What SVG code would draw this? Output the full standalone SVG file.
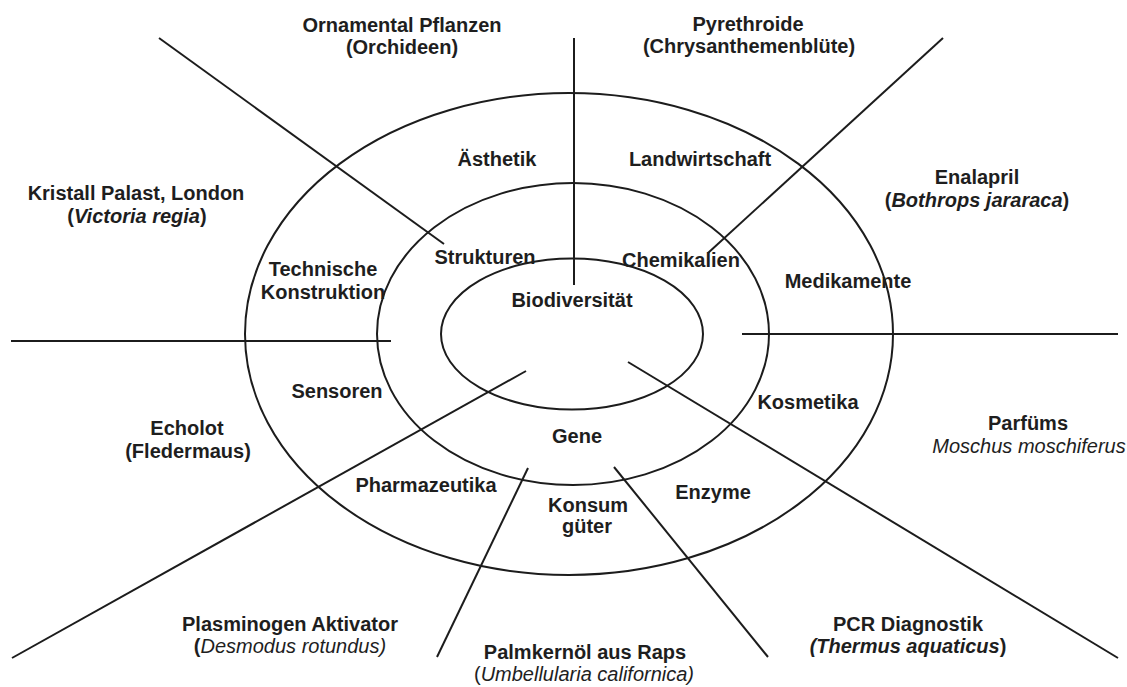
<svg xmlns="http://www.w3.org/2000/svg" width="1127" height="687" viewBox="0 0 1127 687">
<style>
.ring{fill:none;stroke:#1c1c1c;stroke-width:2}
.ln{stroke:#1c1c1c;stroke-width:2;fill:none}
text{font-family:"Liberation Sans",Arial,sans-serif;font-size:20px;font-weight:bold;fill:#1e1e1e;text-anchor:middle}
.it{font-style:italic}
.rg{font-weight:normal}
</style>
<rect width="1127" height="687" fill="#ffffff"/>
<g id="rings">
<ellipse class="ring" cx="569" cy="334" rx="324" ry="241"/>
<ellipse class="ring" cx="573" cy="334" rx="196" ry="151"/>
<ellipse class="ring" cx="572" cy="334" rx="131" ry="75.5"/>
</g>
<g id="connectors">
<line class="ln" x1="159" y1="38" x2="444" y2="244"/>
<line class="ln" x1="574" y1="38" x2="574" y2="285"/>
<line class="ln" x1="943" y1="38" x2="708" y2="253"/>
<line class="ln" x1="11" y1="341" x2="391" y2="341"/>
<line class="ln" x1="742" y1="334" x2="1118" y2="334"/>
<line class="ln" x1="526" y1="371" x2="12" y2="658"/>
<line class="ln" x1="528" y1="468" x2="437" y2="657"/>
<line class="ln" x1="614" y1="467" x2="768" y2="657"/>
<line class="ln" x1="628" y1="362" x2="1118" y2="658"/>
</g>
<g id="center"><text x="572" y="307">Biodiversität</text></g>
<g id="strukturen"><text x="485" y="264">Strukturen</text></g>
<g id="chemikalien"><text x="681" y="267">Chemikalien</text></g>
<g id="gene"><text x="577" y="443">Gene</text></g>
<g id="aesthetik"><text x="497" y="166">Ästhetik</text></g>
<g id="landwirtschaft"><text x="700" y="166">Landwirtschaft</text></g>
<g id="technische"><text x="323" y="276">Technische</text><text x="323" y="299">Konstruktion</text></g>
<g id="medikamente"><text x="848" y="288">Medikamente</text></g>
<g id="sensoren"><text x="337" y="398">Sensoren</text></g>
<g id="kosmetika"><text x="808" y="409">Kosmetika</text></g>
<g id="pharmazeutika"><text x="426" y="492">Pharmazeutika</text></g>
<g id="konsum"><text x="588" y="512">Konsum</text><text x="587" y="533">güter</text></g>
<g id="enzyme"><text x="713" y="499">Enzyme</text></g>
<g id="ornamental"><text x="402" y="32">Ornamental Pflanzen</text><text x="402" y="54">(Orchideen)</text></g>
<g id="pyrethroide"><text x="748" y="31">Pyrethroide</text><text x="749" y="53">(Chrysanthemenblüte)</text></g>
<g id="kristall"><text x="136" y="200">Kristall Palast, London</text><text x="137" y="223">(<tspan class="it">Victoria regia</tspan>)</text></g>
<g id="enalapril"><text x="977" y="184">Enalapril</text><text x="977" y="207">(<tspan class="it">Bothrops jararaca</tspan>)</text></g>
<g id="echolot"><text x="187" y="435">Echolot</text><text x="188" y="458">(Fledermaus)</text></g>
<g id="parfuems"><text x="1028" y="430">Parfüms</text><text x="1029" y="453" class="it rg">Moschus moschiferus</text></g>
<g id="plasminogen"><text x="290" y="631">Plasminogen Aktivator</text><text x="290" y="653">(<tspan class="it rg">Desmodus rotundus)</tspan></text></g>
<g id="palmkernoel"><text x="585" y="659">Palmkernöl aus Raps</text><text x="584" y="681" class="rg">(<tspan class="it">Umbellularia californica)</tspan></text></g>
<g id="pcr"><text x="908" y="631">PCR Diagnostik</text><text x="908" y="653"><tspan class="it">(Thermus aquaticus</tspan>)</text></g>
</svg>
